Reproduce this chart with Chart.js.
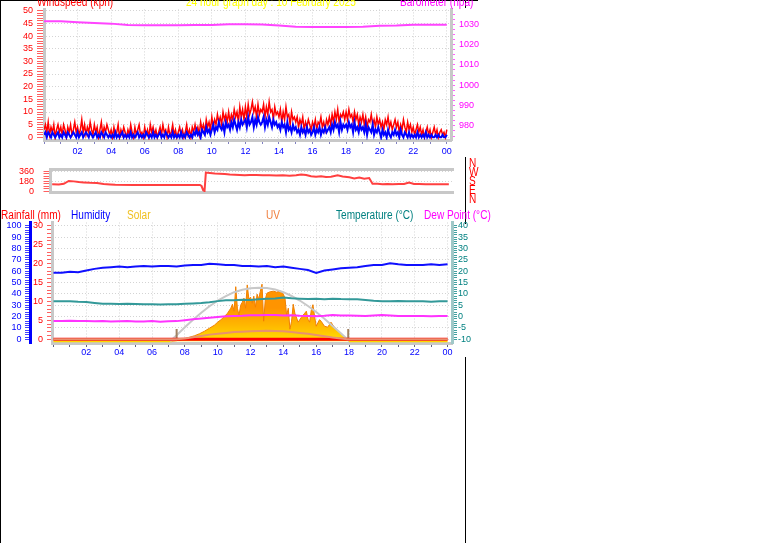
<!DOCTYPE html>
<html>
<head>
<meta charset="utf-8">
<script src="https://cdn.jsdelivr.net/npm/chart.js@4.4.1/dist/chart.umd.min.js"></script>
<style>
  html, body { margin: 0; padding: 0; background: #fff; overflow: hidden; }
  body { width: 761px; height: 543px; position: relative;
         font-family: "Liberation Sans", Arial, sans-serif; }
  canvas { position: absolute; left: 0; }
  .t { position: absolute; font-size: 12px; line-height: 1; white-space: nowrap;
       transform: scaleX(0.84); transform-origin: 0 0; }
  .ln { position: absolute; background: #000; }
</style>
</head>
<body>
<!-- frame lines -->
<div class="ln" style="left:0;top:0;width:478px;height:1px"></div>
<div class="ln" style="left:0;top:0;width:1px;height:543px"></div>
<div class="ln" style="left:465px;top:0;width:1px;height:8px"></div>
<div class="ln" style="left:465px;top:157px;width:1px;height:67px"></div>
<div class="ln" style="left:465px;top:357px;width:1px;height:186px"></div>

<canvas id="windChart" width="480" height="157" style="top:0"></canvas>
<canvas id="dirChart" width="480" height="52" style="top:155px"></canvas>
<canvas id="weatherChart" width="480" height="155" style="top:205px"></canvas>

<!-- titles -->
<span class="t" style="left:37px;top:-4px;color:#ff0000">Windspeed (kph)</span>
<span class="t" style="left:186px;top:-4px;color:#ffff00">24 hour graph day : 10 February 2025</span>
<span class="t" style="left:400px;top:-4px;color:#ff00ff">Barometer (hpa)</span>

<span class="t" style="left:1px;top:209px;color:#ff0000">Rainfall (mm)</span>
<span class="t" style="left:71px;top:209px;color:#0000ff">Humidity</span>
<span class="t" style="left:127px;top:209px;color:#f0c020">Solar</span>
<span class="t" style="left:266px;top:209px;color:#f08040">UV</span>
<span class="t" style="left:336px;top:209px;color:#008080">Temperature (°C)</span>
<span class="t" style="left:424px;top:209px;color:#ff00ff">Dew Point (°C)</span>

<div id="compass" class="t" style="left:469px;top:159px;color:#ff0000;line-height:9px"></div>

<script>
// ---- data ----
const hourLabels = ["02", "04", "06", "08", "10", "12", "14", "16", "18", "20", "22", "00"];
const compassLabels = ["N", "W", "S", "E", "N"];

// wind, one value every 5 minutes (kph)
const windGust = [
  3,5,2,6,1,4,2,5,0,3,5,2, 4,1,5,3,0,4,2,5,1,3,6,2, 4,1,3,7,2,5,1,4,2,6,3,1,
  5,2,4,0,3,6,1,4,2,5,3,1, 3,0,4,1,2,5,0,3,1,4,2,0, 3,1,5,2,0,4,1,3,5,1,2,0,
  4,1,3,0,5,2,4,1,3,0,2,4, 1,5,2,3,0,4,1,2,5,1,3,0, 2,4,1,3,0,2,5,1,3,0,4,2,
  5,2,4,1,6,3,5,2,7,4,6,3, 8,4,7,5,9,6,8,5,10,7,9,6, 10,6,9,7,11,8,10,6,12,8,11,7,
  12,8,13,9,11,14,10,12,8,13,9,11, 10,13,8,12,9,14,10,11,7,12,9,10, 8,11,6,10,7,12,8,9,5,10,7,8,
  6,8,4,7,5,8,3,6,4,7,5,3, 6,4,7,3,6,5,8,4,6,3,7,5, 8,5,9,6,10,7,11,6,9,8,10,7,
  10,7,11,8,9,6,10,7,9,5,8,6, 9,5,8,4,7,6,9,5,7,4,8,5, 7,4,6,3,7,5,8,4,6,3,5,7,
  4,6,2,5,3,7,4,2,6,3,5,2, 4,1,3,5,2,4,1,3,0,2,4,1, 3,0,2,4,1,3,0,2,3,1,2,0, 3
];
const windAvg = [
  1,2,0,2,1,0,2,1,0,1,2,0, 1,0,2,1,0,2,1,0,1,2,1,0, 2,0,1,2,0,1,2,1,0,2,1,0,
  1,2,0,1,0,2,1,0,2,1,0,1, 0,1,0,2,0,1,0,1,2,0,1,0, 1,0,2,0,1,0,1,2,0,1,0,1,
  0,2,1,0,1,0,2,0,1,0,1,2, 0,1,0,2,1,0,1,0,2,0,1,0, 1,0,2,0,1,0,2,1,0,1,0,2,
  1,3,1,2,0,3,2,1,4,2,3,1, 3,5,2,4,3,6,4,3,5,2,6,4, 5,3,6,4,7,5,3,6,4,7,5,6,
  7,4,8,5,6,8,4,7,5,8,6,5, 6,8,4,7,5,8,6,4,7,5,6,4, 5,3,6,4,5,2,6,3,4,2,5,3,
  4,2,3,1,4,2,3,1,4,2,3,1, 2,4,1,3,2,4,1,3,2,4,2,3, 4,2,5,3,6,4,5,2,6,3,5,4,
  5,3,6,4,5,2,6,3,4,2,5,3, 4,2,5,1,4,3,2,5,1,3,2,4, 2,0,3,1,2,0,3,1,0,2,1,3,
  1,2,0,3,1,0,2,1,0,2,0,1, 0,1,0,2,0,1,0,1,0,2,0,1, 0,1,0,0,1,0,1,0,0,1,0,0, 1
];
// barometer, hourly (hPa)
const baroHpa = [1031.5, 1031.5, 1031.0, 1030.6, 1030.3, 1029.6, 1029.5, 1029.5, 1029.5, 1029.6,
  1029.6, 1030.0, 1030.0, 1029.9, 1029.4, 1028.8, 1028.6, 1028.6, 1028.6, 1028.8, 1029.3,
  1029.4, 1029.8, 1029.8, 1029.8];

// wind direction (hour, degrees)
const dirHours = [0.1,0.5,0.8,1.1,1.4,1.7,2.0,2.4,2.8,3.2,3.6,3.9,5,7,9.0,9.1,9.2,9.28,9.36,
  9.6,9.9,10.2,10.5,10.8,11.1,11.4,11.7,12.0,12.4,12.8,13.2,13.6,14.0,14.4,14.8,15.1,15.4,
  15.7,16.0,16.3,16.6,16.9,17.3,17.6,18.0,18.3,18.6,18.9,19.2,19.4,19.7,20.0,20.3,20.6,21.0,
  21.3,21.6,21.9,22.2,22.6,23.0,23.5,24.0];
const dirDegrees = [126,122,135,185,178,165,160,152,147,133,124,117,115,115,115,95,20,5,335,
  328,320,316,308,300,296,292,288,291,290,286,289,284,287,280,286,300,290,
  270,262,270,258,262,286,264,251,230,245,225,238,137,135,128,132,128,133,
  130,158,132,130,127,128,128,128];

// half-hourly series
const halfHours = [0,0.5,1,1.5,2,2.5,3,3.5,4,4.5,5,5.5,6,6.5,7,7.5,8,8.5,9,9.5,10,10.5,11,11.5,
  12,12.5,13,13.5,14,14.5,15,15.5,16,16.5,17,17.5,18,18.5,19,19.5,20,20.5,21,21.5,22,22.5,23,23.5,24];
const humidity = [58.5,58.5,59.5,59,60.5,62,63,63.5,64,63.5,64,64.5,64,64.5,64.5,64,65,65.5,65.5,66.5,
  66,65.5,65.5,64.5,64.5,64,64.5,63.5,64,63,62,61,58.5,60.5,61.5,62.5,63,63.5,64.5,65.5,
  65.5,67,66,65.5,65.5,65.5,66,65.5,66];
const temperature = [6.8,6.8,6.7,6.5,6.4,6.0,5.6,5.6,5.5,5.6,5.5,5.4,5.4,5.3,5.4,5.4,5.6,5.8,6.0,6.3,
  6.8,7.2,7.2,7.4,7.3,7.6,7.8,8.0,8.4,8.1,7.9,7.7,7.8,7.6,7.9,7.7,7.6,7.6,7.3,7.0,
  6.8,6.8,6.9,6.7,6.7,6.8,6.5,6.7,6.8];
const dewPoint = [-2.0,-2.0,-1.8,-2.0,-2.0,-2.1,-2.0,-2.2,-2.1,-2.0,-2.2,-2.2,-2.0,-2.3,-2.1,-2.0,-1.6,-1.2,-0.8,-0.5,
  -0.2,0.1,0.3,0.4,0.6,0.6,0.7,0.7,0.5,0.6,0.4,0.3,0.2,0.4,0.7,0.5,0.5,0.4,0.3,0.5,
  0.7,0.5,0.3,0.3,0.3,0.2,0.1,0.2,0.3];
const rainfall = [0, 0, 0, 0, 0, 0, 0, 0, 0, 0, 0, 0, 0, 0, 0, 0, 0, 0, 0, 0, 0, 0, 0, 0, 0];

// solar (W/m2)
const solarHours = [0,7.2,7.5,7.8,8.0,8.3,8.6,8.9,9.2,9.5,9.8,10.0,10.2,10.4,10.6,10.8,10.9,11.0,11.1,11.2,
  11.3,11.4,11.5,11.6,11.7,11.8,11.9,12.0,12.1,12.2,12.3,12.4,12.5,12.6,12.7,12.8,12.9,13.0,13.2,13.4,
  13.6,13.8,14.0,14.1,14.2,14.3,14.4,14.5,14.6,14.7,14.9,15.1,15.3,15.4,15.5,15.6,15.7,15.8,15.9,16.0,
  16.2,16.3,16.5,16.7,16.9,17.1,17.3,17.5,17.7,17.9,18.0,24];
const solarWm2 = [0,0,5,15,25,40,55,75,100,130,160,190,215,245,280,330,370,300,545,330,
  260,360,390,430,330,563,420,440,380,450,340,470,420,500,570,200,420,480,495,500,
  490,505,470,430,260,330,120,200,370,280,190,240,280,300,220,190,310,365,250,150,
  215,200,150,140,190,140,110,75,45,10,0,0];
const solarMaxHours = [7.1,7.5,8,8.5,9,9.5,10,10.5,11,11.5,12,12.5,13,13.5,14,14.5,15,15.5,16,16.5,17,17.5,18];
const solarMaxWm2 = [0,60,140,215,285,350,405,450,490,515,530,535,532,518,490,452,407,352,292,225,153,80,5];
const uvHours = [0,7.5,8,8.5,9,9.5,10,10.5,11,11.5,12,13,14,14.5,15,15.5,16,16.5,17,17.5,17.9,24];
const uvIndex = [0,0,0.1,0.25,0.4,0.55,0.65,0.75,0.85,0.9,0.95,1.0,0.95,0.85,0.75,0.65,0.5,0.35,0.2,0.1,0,0];
const sunrise = 7.5;
const sunset = 17.95;
const sunMarkTop = 1.2;

// ---- helpers ----
Chart.defaults.font.family = '"Liberation Sans", Arial, sans-serif';
Chart.defaults.font.size = 9;
Chart.defaults.animation = false;
Chart.defaults.plugins.legend.display = false;
Chart.defaults.plugins.tooltip.enabled = false;
Chart.defaults.elements.point.radius = 0;
Chart.defaults.elements.line.tension = 0;

const range = (a, b, s) => { const out = []; for (let v = a; v <= b + 1e-9; v += s) out.push(+v.toFixed(2)); return out; };
const pts = (xs, ys) => ys.map((y, i) => ({ x: xs[i], y: y }));
const byStep = (ys, perHour) => ys.map((y, i) => ({ x: i / perHour, y: y }));
const fixedTicks = vals => scale => { scale.ticks = vals.map(v => ({ value: v })); };
const fixW = w => s => { s.width = w; };
const fixH = h => s => { s.height = h; };
const GRID = '#d4d4d4';
const AXIS = '#c8c8c8';

function timeAxis(min, max, height, labelColor, tickColor, pad) {
  return {
    type: 'linear', position: 'bottom', min: min, max: max,
    afterBuildTicks: fixedTicks(range(0, 24, 1)),
    afterFit: fixH(height),
    ticks: { autoSkip: false, maxRotation: 0, color: labelColor, padding: pad,
      callback: v => (v % 2 === 0 && v > 0) ? hourLabels[v / 2 - 1] : '' },
    grid: { color: c => (c.tick && c.tick.value % 2 === 0 && c.tick.value > 0) ? GRID : 'transparent',
      tickColor: tickColor, tickLength: 4, tickWidth: 1, lineWidth: 1 },
    border: { color: AXIS, width: 3, dash: [1, 2] }
  };
}

function valueAxis(o) {
  return {
    type: 'linear', axis: 'y', position: o.position, min: o.min, max: o.max, weight: o.weight || 0,
    afterBuildTicks: fixedTicks(o.ticks),
    afterFit: fixW(o.width),
    ticks: { autoSkip: false, color: o.color, padding: o.padding,
      callback: v => o.labels.includes(v) ? String(v) : '' },
    grid: { drawOnChartArea: !!o.grid,
      color: c => (o.grid && c.tick && o.grid.includes(c.tick.value)) ? GRID : 'transparent',
      tickColor: o.tickColor, tickLength: o.tickLength, tickWidth: 1, lineWidth: 1 },
    border: { color: o.borderColor || AXIS, width: 3, dash: [1, 2] }
  };
}

// ---- panel 1: wind speed + barometer ----
new Chart(document.getElementById('windChart'), {
  type: 'line',
  data: { datasets: [
    { data: byStep(windAvg, 12), yAxisID: 'yWind', borderColor: '#0000ff', borderWidth: 2, order: 1 },
    { data: byStep(windGust, 12), yAxisID: 'yWind', borderColor: '#ff0000', borderWidth: 1.5, order: 2 },
    { data: byStep(baroHpa, 1), yAxisID: 'yBaro', borderColor: '#ff44ff', borderWidth: 2, order: 3 }
  ] },
  options: {
    responsive: false, devicePixelRatio: 1,
    layout: { padding: { top: 8, left: 0, right: 0, bottom: 0 } },
    scales: {
      x: timeAxis(0, 24.25, 17, '#0000ff', '#8080c0', 2),
      yWind: valueAxis({ position: 'left', min: -1.055, max: 50.51, width: 44,
        ticks: range(0, 50, 1), labels: range(0, 50, 5), grid: range(0, 50, 5),
        color: '#ff0000', tickColor: '#ff6060', tickLength: 7, padding: 4 }),
      yBaro: valueAxis({ position: 'right', min: 973.04, max: 1037.3, width: 29,
        ticks: range(975, 1035, 2.5), labels: range(980, 1030, 10), grid: null,
        color: '#ff00ff', tickColor: '#ff60ff', tickLength: 4, padding: 4 })
    }
  }
});

// ---- panel 2: wind direction ----
new Chart(document.getElementById('dirChart'), {
  type: 'line',
  data: { datasets: [
    { data: pts(dirHours, dirDegrees), yAxisID: 'yDir', borderColor: '#ff4040', borderWidth: 2 }
  ] },
  options: {
    responsive: false, devicePixelRatio: 1,
    layout: { padding: { top: 5, left: 0, right: 27, bottom: 0 } },
    scales: {
      x: { type: 'linear', position: 'bottom', min: 0, max: 24.25, afterFit: fixH(4),
        ticks: { display: false }, grid: { display: false }, border: { color: AXIS, width: 3 } },
      xTop: { type: 'linear', axis: 'x', position: 'top', min: 0, max: 24.25, afterFit: fixH(0),
        ticks: { display: false }, grid: { display: false }, border: { color: AXIS, width: 3 } },
      yDir: valueAxis({ position: 'left', min: -13.85, max: 383.1, width: 50.5,
        ticks: range(0, 360, 45), labels: [0, 180, 360], grid: [180, 360],
        color: '#ff0000', tickColor: '#ff6060', tickLength: 7, padding: 9.5 })
    }
  }
});

// ---- panel 3: humidity, temperature, solar, uv, rain ----
const solarFill = c => {
  const a = c.chart.chartArea;
  if (!a) return '#ffb000';
  const g = c.chart.ctx.createLinearGradient(0, a.bottom, 0, a.bottom - 35);
  g.addColorStop(0, '#ffe400');
  g.addColorStop(0.5, '#ffb800');
  g.addColorStop(1, '#ff9400');
  return g;
};

new Chart(document.getElementById('weatherChart'), {
  type: 'line',
  data: { datasets: [
    { data: pts(halfHours, humidity), yAxisID: 'yHum', borderColor: '#1010ff', borderWidth: 2, order: 1 },
    { data: pts(halfHours, temperature), yAxisID: 'yTemp', borderColor: '#339999', borderWidth: 2, order: 2 },
    { data: pts(halfHours, dewPoint), yAxisID: 'yTemp', borderColor: '#ff33ff', borderWidth: 2, order: 3 },
    { data: pts(uvHours, uvIndex), yAxisID: 'yUV', borderColor: '#e89070', borderWidth: 2, order: 4 },
    { data: byStep(rainfall, 1), yAxisID: 'yRain', borderColor: '#ff0000', borderWidth: 3, order: 5 },
    { data: [{ x: sunrise, y: 0 }, { x: sunrise, y: sunMarkTop }], yAxisID: 'yUV', borderColor: '#a08060', borderWidth: 2, order: 6 },
    { data: [{ x: sunset, y: 0 }, { x: sunset, y: sunMarkTop }], yAxisID: 'yUV', borderColor: '#a08060', borderWidth: 2, order: 6 },
    { data: pts(solarMaxHours, solarMaxWm2), yAxisID: 'ySolar', borderColor: '#c8c8c8', borderWidth: 2, order: 7 },
    { data: pts(solarHours, solarWm2), yAxisID: 'ySolar', borderColor: '#f08000', borderWidth: 1,
      fill: 'origin', backgroundColor: solarFill, order: 8,
      segment: { borderColor: c => (c.p0.parsed.y === 0 && c.p1.parsed.y === 0) ? '#ffd800' : '#f08000',
        borderWidth: c => (c.p0.parsed.y === 0 && c.p1.parsed.y === 0) ? 2 : 1 } }
  ] },
  options: {
    responsive: false, devicePixelRatio: 1,
    layout: { padding: { top: 17.5, left: 0, right: 0, bottom: 0 } },
    scales: {
      x: timeAxis(-0.09, 24.27, 17, '#0000ff', '#606080', 0),
      yRain: valueAxis({ position: 'left', weight: 0, min: -0.977, max: 30.845, width: 22,
        ticks: range(0, 30, 1), labels: range(0, 30, 5), grid: null,
        color: '#ff0000', tickColor: '#ff6060', tickLength: 5, padding: 4 }),
      yHum: valueAxis({ position: 'left', weight: 1, min: -3.257, max: 102.817, width: 30,
        ticks: range(0, 100, 2), labels: range(0, 100, 10), grid: null,
        color: '#0000ff', tickColor: '#4040ff', tickLength: 5, padding: 3.5, borderColor: '#0000ff' }),
      yTemp: valueAxis({ position: 'right', min: -11.629, max: 41.408, width: 28,
        ticks: range(-10, 40, 1), labels: range(-10, 40, 5), grid: range(-10, 40, 5),
        color: '#008080', tickColor: '#40a0a0', tickLength: 5, padding: 1, borderColor: '#a0c8c8' }),
      ySolar: { type: 'linear', axis: 'y', display: false, min: -18, max: 1187 },
      yUV: { type: 'linear', axis: 'y', display: false, min: -0.435, max: 13.74 }
    }
  }
});

document.getElementById('compass').innerHTML = compassLabels.join('<br>');
</script>
</body>
</html>
